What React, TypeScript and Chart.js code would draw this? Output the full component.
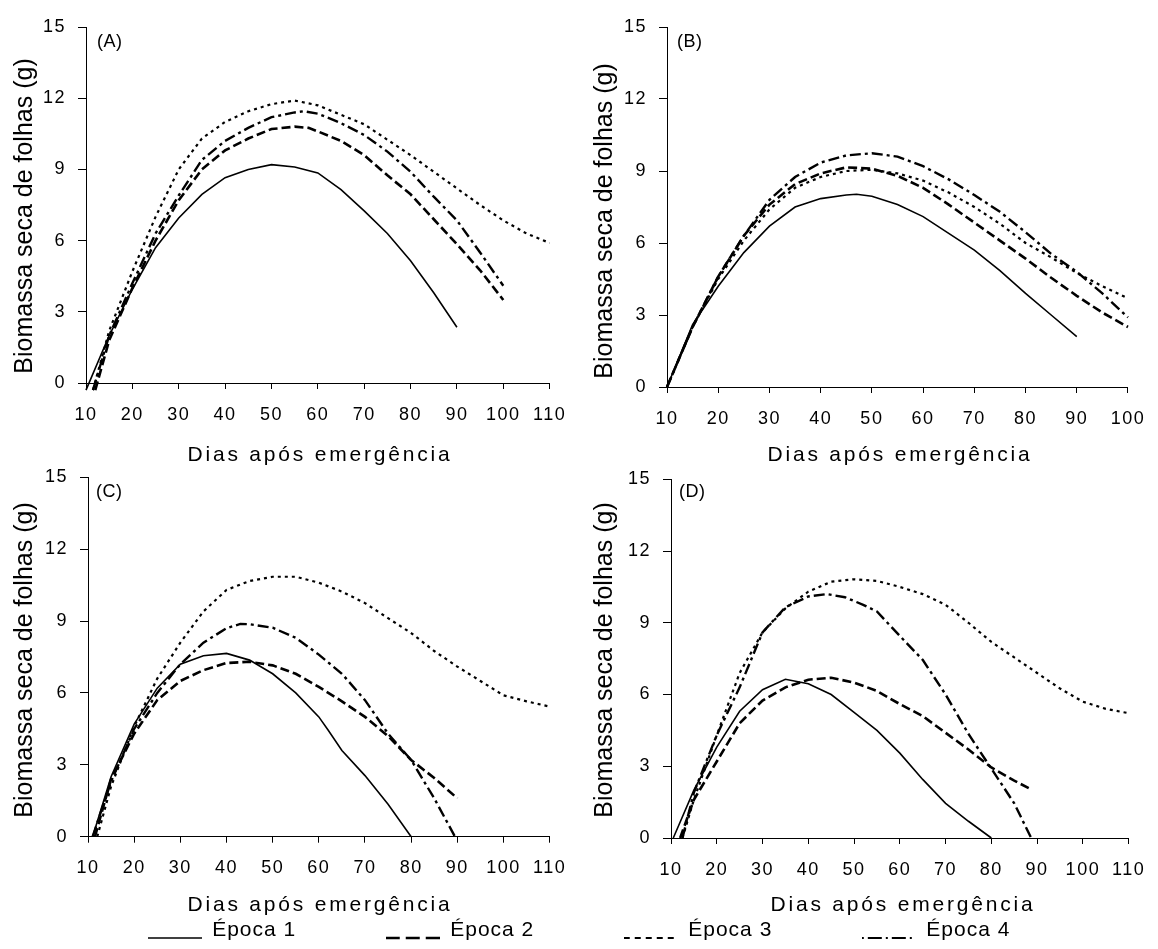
import React, { useEffect, useRef } from 'react';
import { Chart, registerables } from 'chart.js';

Chart.register(...registerables);

const FONT = '"Liberation Sans", Arial, Helvetica, sans-serif';

// ---------- text & ticks ----------
const seriesLabels = ['Época 1', 'Época 2', 'Época 3', 'Época 4'];
const panelLabels = ['(A)', '(B)', '(C)', '(D)'];
const xAxisTitle = 'Dias após emergência';
const yAxisTitle = 'Biomassa seca de folhas (g)';
const yTicks = [0, 3, 6, 9, 12, 15];
const xTicks110 = [10, 20, 30, 40, 50, 60, 70, 80, 90, 100, 110];
const xTicks100 = [10, 20, 30, 40, 50, 60, 70, 80, 90, 100];

type Pt = [number, number];

// ---------- data: [dias, biomassa] ----------
const A_epoca1: Pt[] = [[10, -0.3], [15, 2.0], [20, 3.95], [25, 5.7], [30, 6.95], [35, 7.95], [40, 8.65], [45, 9.0], [50, 9.2], [55, 9.1], [60, 8.85], [65, 8.15], [70, 7.25], [75, 6.3], [80, 5.15], [85, 3.8], [90, 2.35]];
const A_epoca2: Pt[] = [[12, -0.3], [15, 1.8], [20, 4.0], [25, 6.0], [30, 7.7], [35, 9.0], [40, 9.8], [45, 10.3], [50, 10.7], [55, 10.8], [58, 10.75], [60, 10.6], [65, 10.2], [70, 9.6], [75, 8.75], [80, 7.95], [85, 6.9], [90, 5.85], [95, 4.75], [100, 3.5]];
const A_epoca3: Pt[] = [[11.5, -0.3], [15, 2.2], [20, 4.7], [25, 7.0], [30, 9.0], [35, 10.3], [40, 11.0], [45, 11.45], [50, 11.75], [55, 11.9], [60, 11.7], [65, 11.3], [70, 10.9], [75, 10.25], [80, 9.6], [85, 8.9], [90, 8.2], [95, 7.5], [100, 6.85], [105, 6.3], [110, 5.9]];
const A_epoca4: Pt[] = [[11.5, -0.3], [15, 2.0], [20, 4.2], [25, 6.3], [30, 7.9], [35, 9.4], [40, 10.2], [45, 10.75], [50, 11.2], [55, 11.4], [57, 11.45], [60, 11.35], [65, 10.95], [70, 10.45], [75, 9.75], [80, 8.9], [85, 7.85], [90, 6.85], [95, 5.5], [100, 4.1]];

const B_epoca1: Pt[] = [[10, 0], [15, 2.6], [20, 4.2], [25, 5.6], [30, 6.7], [35, 7.5], [40, 7.85], [45, 8.0], [47, 8.03], [50, 7.95], [55, 7.6], [60, 7.1], [65, 6.4], [70, 5.7], [75, 4.85], [80, 3.9], [85, 3.0], [90, 2.1]];
const B_epoca2: Pt[] = [[10, 0], [15, 2.5], [20, 4.6], [25, 6.3], [30, 7.6], [35, 8.45], [40, 8.9], [45, 9.15], [50, 9.1], [55, 8.8], [60, 8.3], [65, 7.6], [70, 6.85], [75, 6.1], [80, 5.35], [85, 4.55], [90, 3.8], [95, 3.1], [100, 2.5]];
const B_epoca3: Pt[] = [[10, 0], [15, 2.5], [20, 4.5], [25, 6.1], [30, 7.4], [35, 8.3], [40, 8.75], [45, 9.0], [50, 9.05], [55, 8.9], [60, 8.6], [65, 8.1], [70, 7.5], [75, 6.8], [80, 6.0], [85, 5.4], [90, 4.75], [95, 4.2], [100, 3.7]];
const B_epoca4: Pt[] = [[10, 0], [15, 2.5], [20, 4.6], [25, 6.3], [30, 7.8], [35, 8.75], [40, 9.35], [45, 9.65], [50, 9.74], [55, 9.6], [60, 9.2], [65, 8.65], [70, 8.0], [75, 7.3], [80, 6.45], [85, 5.55], [90, 4.8], [95, 3.9], [100, 2.9]];

const C_epoca1: Pt[] = [[11, 0], [15, 2.5], [20, 4.7], [25, 6.2], [30, 7.2], [35, 7.55], [40, 7.65], [45, 7.37], [50, 6.8], [55, 6.0], [60, 5.0], [62, 4.45], [65, 3.6], [70, 2.55], [75, 1.35], [80, 0]];
const C_epoca2: Pt[] = [[11.5, 0], [15, 2.4], [20, 4.3], [25, 5.7], [30, 6.5], [35, 6.95], [40, 7.25], [45, 7.3], [50, 7.15], [55, 6.8], [60, 6.25], [65, 5.65], [70, 5.0], [75, 4.2], [80, 3.2], [85, 2.45], [90, 1.6]];
const C_epoca3: Pt[] = [[12, 0], [15, 2.1], [20, 4.6], [25, 6.6], [30, 8.1], [35, 9.4], [40, 10.3], [45, 10.67], [50, 10.85], [55, 10.85], [60, 10.6], [65, 10.23], [70, 9.75], [75, 9.12], [80, 8.5], [85, 7.75], [90, 7.1], [95, 6.5], [100, 5.9], [105, 5.65], [110, 5.43]];
const C_epoca4: Pt[] = [[11, 0], [15, 2.3], [20, 4.5], [25, 6.0], [30, 7.2], [35, 8.1], [40, 8.7], [43, 8.88], [45, 8.87], [50, 8.72], [55, 8.3], [60, 7.6], [65, 6.8], [70, 5.7], [75, 4.3], [80, 3.2], [85, 1.6], [89.5, 0]];

const D_epoca1: Pt[] = [[10.5, 0], [15, 2.0], [20, 3.8], [25, 5.3], [30, 6.2], [35, 6.64], [40, 6.45], [45, 6.0], [50, 5.25], [55, 4.5], [60, 3.55], [65, 2.45], [70, 1.45], [75, 0.7], [80, 0]];
const D_epoca2: Pt[] = [[12, 0], [15, 1.6], [20, 3.2], [25, 4.8], [30, 5.75], [35, 6.3], [40, 6.62], [45, 6.7], [50, 6.5], [55, 6.15], [60, 5.6], [65, 5.1], [70, 4.4], [75, 3.7], [80, 2.95], [85, 2.4], [88.5, 2.05]];
const D_epoca3: Pt[] = [[12.5, 0], [15, 1.6], [20, 4.3], [25, 6.9], [30, 8.6], [35, 9.6], [40, 10.3], [45, 10.72], [50, 10.82], [55, 10.75], [60, 10.5], [65, 10.2], [70, 9.75], [75, 9.0], [80, 8.2], [85, 7.55], [90, 6.9], [95, 6.25], [100, 5.7], [105, 5.4], [110, 5.22]];
const D_epoca4: Pt[] = [[12.5, 0], [15, 1.9], [20, 4.3], [25, 6.3], [30, 8.6], [35, 9.65], [40, 10.1], [44, 10.2], [48, 10.07], [52, 9.75], [55, 9.47], [60, 8.45], [65, 7.45], [70, 6.0], [75, 4.35], [80, 2.9], [85, 1.45], [88.7, 0]];

// ---------- styles ----------
const LINE_STYLES = [
  { dash: [] as number[], width: 1.6 },
  { dash: [9, 4], width: 2.6 },
  { dash: [3, 4], width: 2.2 },
  { dash: [11, 4, 3, 4], width: 2.4 },
];
const LEGEND_STYLES = [
  { dash: [] as number[], width: 1.5 },
  { dash: [14, 6], width: 2.5 },
  { dash: [6, 5], width: 2 },
  { dash: [2, 4, 14, 4], width: 2 },
];

interface PanelDef {
  label: string;
  series: Pt[][];
  xTicks: number[];
  left: number; top: number; width: number; height: number;
  area: { l: number; r: number; t: number; b: number };
  labelPos: [number, number];
  xTitlePos: [number, number];
  yTitlePos: [number, number];
}

const PANELS: PanelDef[] = [
  {
    label: panelLabels[0], series: [A_epoca1, A_epoca2, A_epoca3, A_epoca4], xTicks: xTicks110,
    left: 0, top: 0, width: 579, height: 475,
    area: { l: 86, r: 553, t: 27, b: 383 },
    labelPos: [97, 47], xTitlePos: [320, 461], yTitlePos: [31.5, 216],
  },
  {
    label: panelLabels[1], series: [B_epoca1, B_epoca2, B_epoca3, B_epoca4], xTicks: xTicks100,
    left: 579, top: 0, width: 579, height: 475,
    area: { l: 88, r: 554, t: 27, b: 387 },
    labelPos: [98, 47], xTitlePos: [321, 461], yTitlePos: [32.5, 221],
  },
  {
    label: panelLabels[2], series: [C_epoca1, C_epoca2, C_epoca3, C_epoca4], xTicks: xTicks110,
    left: 0, top: 440, width: 579, height: 485,
    area: { l: 88, r: 552, t: 37.3, b: 396.7 },
    labelPos: [96, 57], xTitlePos: [320, 471], yTitlePos: [31.5, 220],
  },
  {
    label: panelLabels[3], series: [D_epoca1, D_epoca2, D_epoca3, D_epoca4], xTicks: xTicks110,
    left: 579, top: 440, width: 579, height: 485,
    area: { l: 92, r: 556, t: 39.3, b: 398 },
    labelPos: [100, 57], xTitlePos: [324, 471], yTitlePos: [32.5, 220],
  },
];

function decorPlugin(p: PanelDef) {
  return {
    id: 'decor',
    beforeDraw(chart: any) {
      chart.ctx.letterSpacing = '1.5px';
    },
    afterDraw(chart: any) {
      const ctx = chart.ctx;
      ctx.save();
      ctx.fillStyle = '#000';
      ctx.textBaseline = 'alphabetic';
      ctx.letterSpacing = '0.5px';
      ctx.textAlign = 'left';
      ctx.font = `18px ${FONT}`;
      ctx.fillText(p.label, p.labelPos[0], p.labelPos[1]);

      ctx.textAlign = 'center';
      ctx.font = `21px ${FONT}`;
      ctx.letterSpacing = '2.8px';
      ctx.fillText(xAxisTitle, p.xTitlePos[0], p.xTitlePos[1]);

      ctx.letterSpacing = '0px';
      ctx.font = `25px ${FONT}`;
      ctx.translate(p.yTitlePos[0], p.yTitlePos[1]);
      ctx.rotate(-Math.PI / 2);
      ctx.fillText(yAxisTitle, 0, 0);
      ctx.restore();
    },
  };
}

function Panel({ p }: { p: PanelDef }) {
  const ref = useRef<HTMLCanvasElement | null>(null);
  useEffect(() => {
    if (!ref.current) return;
    const xMax = p.xTicks[p.xTicks.length - 1];
    const chart = new Chart(ref.current, {
      type: 'line',
      data: {
        datasets: p.series.map((s, i) => ({
          label: seriesLabels[i],
          data: s.map(([x, y]) => ({ x, y })),
          borderColor: '#000',
          backgroundColor: '#000',
          borderWidth: LINE_STYLES[i].width,
          borderDash: LINE_STYLES[i].dash,
          pointRadius: 0,
          tension: 0,
          fill: false,
          clip: false as any,
        })),
      },
      options: {
        responsive: false,
        animation: false,
        devicePixelRatio: 1,
        layout: { padding: { left: 0, top: p.area.t, right: p.width - p.area.r, bottom: 0 } },
        plugins: { legend: { display: false }, tooltip: { enabled: false } },
        scales: {
          x: {
            type: 'linear',
            min: p.xTicks[0],
            max: xMax,
            afterBuildTicks: (scale: any) => { scale.ticks = p.xTicks.map((v) => ({ value: v })); },
            afterFit: (scale: any) => { scale.height = p.height - p.area.b; },
            ticks: { autoSkip: false, maxRotation: 0, minRotation: 0, padding: 15, color: '#000', font: { size: 18, family: FONT } },
            grid: { drawOnChartArea: false, drawTicks: true, tickLength: 6, color: '#000', lineWidth: 1 },
            border: { display: true, color: '#000', width: 1 },
          },
          y: {
            type: 'linear',
            min: 0,
            max: 15,
            afterBuildTicks: (scale: any) => { scale.ticks = yTicks.map((v) => ({ value: v })); },
            afterFit: (scale: any) => { scale.width = p.area.l; },
            ticks: { padding: 12, color: '#000', font: { size: 18, family: FONT } },
            grid: { drawOnChartArea: false, drawTicks: true, tickLength: 8, color: '#000', lineWidth: 1 },
            border: { display: true, color: '#000', width: 1 },
          },
        },
      },
      plugins: [decorPlugin(p)],
    } as any);
    return () => chart.destroy();
  }, [p]);
  return (
    <canvas
      ref={ref}
      width={p.width}
      height={p.height}
      style={{ position: 'absolute', left: p.left, top: p.top, width: p.width, height: p.height }}
    />
  );
}

function makeSample(dash: number[], width: number): HTMLCanvasElement {
  const c = document.createElement('canvas');
  c.width = 54;
  c.height = 24;
  const g = c.getContext('2d')!;
  g.strokeStyle = '#000';
  g.lineWidth = width;
  g.setLineDash(dash);
  g.beginPath();
  g.moveTo(0, 20);
  g.lineTo(54, 20);
  g.stroke();
  return c;
}

function LegendChart() {
  const ref = useRef<HTMLCanvasElement | null>(null);
  useEffect(() => {
    if (!ref.current) return;
    const samples = LEGEND_STYLES.map((s) => makeSample(s.dash, s.width));
    const chart = new Chart(ref.current, {
      type: 'line',
      data: {
        datasets: seriesLabels.map((label, i) => ({
          label,
          data: [],
          borderColor: '#000',
          borderWidth: LEGEND_STYLES[i].width,
          borderDash: LEGEND_STYLES[i].dash,
        })),
      },
      options: {
        responsive: false,
        animation: false,
        devicePixelRatio: 1,
        layout: { padding: 0 },
        scales: { x: { display: false }, y: { display: false } },
        plugins: {
          tooltip: { enabled: false },
          legend: {
            display: true,
            position: 'top',
            align: 'center',
            maxHeight: 400,
            labels: {
              color: '#000',
              font: { size: 21, family: FONT },
              padding: 89.5,
              usePointStyle: true,
              pointStyleWidth: 54,
              generateLabels: (ch: any) =>
                ch.data.datasets.map((ds: any, i: number) => ({
                  text: ds.label,
                  pointStyle: samples[i],
                  fillStyle: '#000',
                  strokeStyle: '#000',
                  lineWidth: 0,
                  fontColor: '#000',
                  hidden: false,
                  datasetIndex: i,
                })),
            },
          },
        },
      },
      plugins: [
        {
          id: 'spacing',
          beforeUpdate(ch: any) { ch.ctx.letterSpacing = '1px'; },
          beforeDraw(ch: any) { ch.ctx.letterSpacing = '1px'; },
        },
      ],
    } as any);
    return () => chart.destroy();
  }, []);
  return (
    <canvas
      ref={ref}
      width={1158}
      height={119}
      style={{ position: 'absolute', left: 0, top: 830, width: 1158, height: 119 }}
    />
  );
}

export default function App() {
  return (
    <div style={{ position: 'absolute', left: 0, top: 0, width: 1158, height: 949, background: '#fff', overflow: 'hidden' }}>
      {PANELS.map((p) => (
        <Panel key={p.label} p={p} />
      ))}
      <LegendChart />
    </div>
  );
}
